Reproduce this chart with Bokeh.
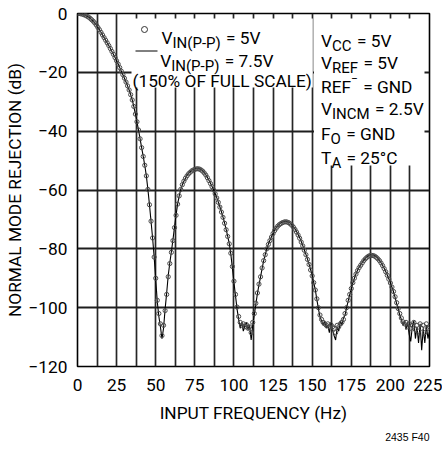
from bokeh.plotting import figure
from bokeh.models import FixedTicker, Label, Range1d, Title
from bokeh.embed import file_html
from bokeh.resources import INLINE

# ---------------- data ----------------
freq_hz = list(range(0, 226))

rej_5v = [
    0.0, 0.0, -0.1, -0.2, -0.4, -0.6, -0.9, -1.2, -1.6, -2.1,
    -2.6, -3.2, -3.9, -4.7, -5.5, -6.4, -7.3, -8.2, -9.1, -10.0,
    -10.9, -11.9, -12.9, -13.9, -15.0, -16.1, -17.2, -18.4, -19.6, -20.8,
    -22.0, -23.3, -24.6, -26.0, -27.6, -29.4, -31.6, -34.2, -36.8, -39.6,
    -42.6, -45.6, -48.6, -51.6, -55.2, -59.8, -65.0, -70.6, -76.3, -82.8,
    -90.0, -97.5, -102.0, -105.5, -109.5, -106.0, -101.0, -95.5, -89.5, -85.0,
    -81.2, -77.2, -72.8, -68.6, -64.8, -62.0, -59.8, -58.2, -57.0, -56.0,
    -55.2, -54.5, -54.0, -53.5, -53.2, -53.0, -52.8, -52.8, -52.9, -53.2,
    -53.6, -54.2, -54.9, -55.8, -56.8, -57.8, -58.9, -60.0, -61.3, -62.7,
    -64.2, -65.8, -67.5, -69.3, -71.3, -73.5, -75.8, -78.3, -81.5, -86.0,
    -91.0, -95.5, -99.8, -103.0, -105.0, -106.0, -105.5, -106.5, -105.8, -107.0,
    -106.5, -108.5, -105.0, -102.0, -98.5, -95.0, -92.0, -89.5, -86.5, -84.0,
    -82.0, -80.0, -78.5, -77.2, -76.0, -74.8, -73.8, -73.0, -72.3, -71.8,
    -71.4, -71.1, -70.9, -70.8, -70.9, -71.1, -71.5, -72.0, -72.6, -73.4,
    -74.3, -75.3, -76.4, -77.7, -79.0, -80.5, -82.0, -83.6, -85.3, -87.2,
    -89.2, -91.5, -94.0, -97.0, -100.0, -102.5, -104.0, -105.0, -105.5, -106.0,
    -105.5, -106.5, -105.8, -106.5, -107.0, -108.5, -106.0, -106.5, -105.5, -105.0,
    -104.0, -102.0, -100.0, -97.5, -95.5, -93.5, -91.5, -90.0, -88.6, -87.4,
    -86.4, -85.6, -84.8, -84.0, -83.4, -82.9, -82.5, -82.3, -82.2, -82.3,
    -82.5, -82.9, -83.4, -84.0, -84.8, -85.7, -86.7, -87.8, -89.0, -90.3,
    -91.6, -93.0, -94.5, -96.3, -98.3, -100.3, -102.0, -103.5, -104.8, -105.5,
    -105.0, -106.5, -105.5, -107.0, -106.0, -105.0, -107.5, -106.0, -108.0, -105.5,
    -107.0, -106.0, -108.5, -105.5, -107.0, -106.5,
]

rej_7v5 = [
    0.0, 0.0, -0.1, -0.2, -0.4, -0.6, -0.9, -1.2, -1.6, -2.1,
    -2.6, -3.2, -3.9, -4.7, -5.5, -6.4, -7.3, -8.2, -9.1, -10.0,
    -10.9, -11.9, -12.9, -13.9, -15.0, -16.1, -17.2, -18.4, -19.6, -20.8,
    -22.0, -23.3, -24.6, -26.0, -27.6, -29.4, -31.6, -34.2, -36.8, -39.6,
    -42.6, -45.6, -48.6, -51.6, -55.2, -59.8, -65.0, -70.6, -76.3, -82.8,
    -90.5, -98.0, -103.0, -106.5, -110.5, -107.0, -100.5, -95.0, -89.0, -84.8,
    -81.0, -77.0, -72.6, -68.5, -64.8, -62.0, -59.8, -58.2, -57.0, -56.0,
    -55.0, -54.3, -53.8, -53.3, -53.0, -52.8, -52.6, -52.6, -52.7, -53.0,
    -53.5, -54.1, -54.8, -55.7, -56.7, -57.7, -58.8, -59.9, -61.2, -62.6,
    -64.1, -65.7, -67.4, -69.2, -71.2, -73.4, -75.7, -78.2, -81.8, -86.5,
    -91.5, -96.0, -100.5, -104.0, -107.0, -105.0, -108.0, -106.0, -105.0, -107.5,
    -106.0, -111.0, -106.0, -102.5, -98.8, -95.2, -92.2, -89.6, -86.6, -84.1,
    -82.0, -80.0, -78.4, -77.1, -75.9, -74.7, -73.6, -72.8, -72.1, -71.6,
    -71.2, -70.9, -70.7, -70.6, -70.7, -70.9, -71.3, -71.8, -72.4, -73.2,
    -74.1, -75.1, -76.2, -77.5, -78.9, -80.4, -81.9, -83.5, -85.2, -87.1,
    -89.1, -91.4, -94.0, -97.2, -100.5, -103.0, -104.5, -106.0, -104.5, -107.0,
    -106.0, -108.5, -105.0, -107.5, -109.5, -111.0, -106.5, -108.0, -104.5, -106.0,
    -103.5, -102.5, -100.0, -97.8, -95.6, -93.6, -91.6, -90.0, -88.5, -87.3,
    -86.3, -85.4, -84.6, -83.8, -83.2, -82.7, -82.3, -82.1, -82.0, -82.1,
    -82.3, -82.7, -83.2, -83.9, -84.7, -85.6, -86.6, -87.7, -88.9, -90.2,
    -91.5, -93.0, -94.6, -96.5, -98.6, -100.5, -102.5, -104.0, -106.0, -104.5,
    -107.5, -105.0, -109.0, -111.5, -106.5, -104.5, -110.5, -106.5, -112.0, -105.5,
    -114.5, -107.0, -112.0, -106.0, -110.5, -108.0,
]

x_ticks = [0, 25, 50, 75, 100, 125, 150, 175, 200, 225]
x_grid = [0, 12.5, 25, 37.5, 50, 62.5, 75, 87.5, 100, 112.5, 125, 137.5,
          150, 162.5, 175, 187.5, 200, 212.5, 225]
y_ticks = [0, -20, -40, -60, -80, -100, -120]
y_tick_labels = ["0", "\u221220", "\u221240", "\u221260", "\u221280", "\u2212100", "\u2212120"]
x_title = "INPUT FREQUENCY (Hz)"
y_title = "NORMAL MODE REJECTION (dB)"
fig_note = "2435 F40"

legend_lines = [
    [("V", "n"), ("IN(P-P)", "sub"), (" = 5V", "n")],
    [("V", "n"), ("IN(P-P)", "sub"), (" = 7.5V", "n")],
    [("(150% OF FULL SCALE)", "n")],
]
cond_lines = [
    [("V", "n"), ("CC", "sub"), (" = 5V", "n")],
    [("V", "n"), ("REF", "sub"), (" = 5V", "n")],
    [("REF", "n"), ("\u2212", "sup"), (" = GND", "n")],
    [("V", "n"), ("INCM", "sub"), (" = 2.5V", "n")],
    [("F", "n"), ("O", "sub"), (" = GND", "n")],
    [("T", "n"), ("A", "sub"), (" = 25\u00b0C", "n")],
]

# ---------------- layout ----------------
FONT = "Roboto"
FS = 17.3
SUB = 15.0
SUP = 12.0
FL, FT, FW, FH = 77, 13, 352, 353          # frame in canvas pixels
XMIN, XMAX, YMIN, YMAX = 0, 225, -120, 0


def dx(px):
    return XMIN + (px - FL) * (XMAX - XMIN) / FW


def dy(py):
    return YMAX - (py - FT) * (YMAX - YMIN) / FH


p = figure(frame_width=FW, frame_height=FH,
           x_range=Range1d(XMIN, XMAX), y_range=Range1d(YMIN, YMAX),
           output_backend="svg", toolbar_location=None,
           min_border_left=FL, min_border_top=FT, min_border_right=13,
           min_border_bottom=85, background_fill_color="white",
           border_fill_color="white")

p.outline_line_color = "black"
p.outline_line_width = 1.6

p.xaxis.ticker = FixedTicker(ticks=x_ticks)
p.yaxis.ticker = FixedTicker(ticks=y_ticks)
p.yaxis.major_label_overrides = {t: s for t, s in zip(y_ticks, y_tick_labels)}
p.xaxis.axis_label = x_title
p.yaxis.axis_label = y_title
for ax in (p.xaxis[0], p.yaxis[0]):
    ax.axis_line_color = None
    ax.major_tick_line_color = None
    ax.minor_tick_line_color = None
    ax.major_tick_out = 0
    ax.major_tick_in = 0
    ax.major_label_text_font = FONT
    ax.major_label_text_font_size = f"{FS}px"
    ax.major_label_text_color = "black"
    ax.axis_label_text_font = FONT
    ax.axis_label_text_font_size = f"{FS}px"
    ax.axis_label_text_font_style = "normal"
    ax.axis_label_text_color = "black"
p.xaxis.major_label_standoff = 12
p.xaxis.axis_label_standoff = 9
p.yaxis.major_label_standoff = 10
p.yaxis.axis_label_standoff = 0

p.xgrid.ticker = FixedTicker(ticks=x_grid)
p.xgrid.grid_line_color = "#262626"
p.xgrid.grid_line_width = 1.7
p.ygrid.ticker = FixedTicker(ticks=y_ticks)
p.ygrid.grid_line_color = "#1e1e1e"
p.ygrid.grid_line_width = 2.2

p.add_layout(Title(text=fig_note, align="right", text_font="Liberation Sans",
                   text_font_size="10.5px", text_font_style="normal",
                   text_color="black", standoff=6), "below")

# white boxes behind legend and conditions
p.quad(left=[dx(131), dx(313.5)], right=[dx(312.3), dx(424)],
       top=[dy(18), dy(18)], bottom=[dy(87), dy(165)],
       fill_color="white", line_color=None)

# data
p.line(freq_hz, rej_7v5, line_color="black", line_width=1.1)
p.scatter(freq_hz, rej_5v, marker="circle", size=4.2, fill_color=None,
          line_color="#4a4a4a", line_width=1)

# ---------------- rich text ----------------
W = {" ": 248, "(": 342, ")": 348, "%": 733, "-": 276, "=": 549, ".": 264,
     "\u00b0": 377, "\u2212": 566, "A": 652, "B": 622, "C": 652, "D": 655,
     "E": 568, "F": 553, "G": 682, "H": 713, "I": 272, "L": 539, "M": 872,
     "N": 713, "O": 688, "P": 632, "R": 616, "S": 607, "T": 600, "U": 648,
     "V": 636, "Y": 607}


def tw(s, size):
    return sum(W.get(c, 562) for c in s) / 1000 * size


def put(text, px, py, size, font=FONT, align="left"):
    p.add_layout(Label(x=dx(px), y=dy(py), text=text, text_font=font,
                       text_font_size=f"{size}px", text_baseline="alphabetic",
                       text_align=align, text_color="black"))


def rich(pieces, px, py):
    x = px
    for txt, kind in pieces:
        if kind == "sub":
            size, off = SUB, 5.0
        elif kind == "sup":
            size, off = SUP, -8.0
        else:
            size, off = FS, 0
        body = txt.lstrip(" ")
        x += tw(txt[:len(txt) - len(body)], size) * 1.25   # leading space (SVG collapses it)
        put(body, x, py + off, size)
        x += tw(body, size)


# legend keys
p.scatter([dx(144)], [dy(29)], marker="circle", size=6, fill_color=None,
          line_color="#333333", line_width=1)
p.line([dx(135), dx(157)], [dy(50.5), dy(50.5)], line_color="black", line_width=1)
rich(legend_lines[0], 161, 37)
rich(legend_lines[1], 159.7, 60.3)
rich(legend_lines[2], 132, 80.3)

# conditions
cond_base = [40.3, 62.5, 86, 108.7, 133.2, 157]
for pieces, by in zip(cond_lines, cond_base):
    rich(pieces, 320.5, by)

open("out.html", "w").write(file_html(p, INLINE))
